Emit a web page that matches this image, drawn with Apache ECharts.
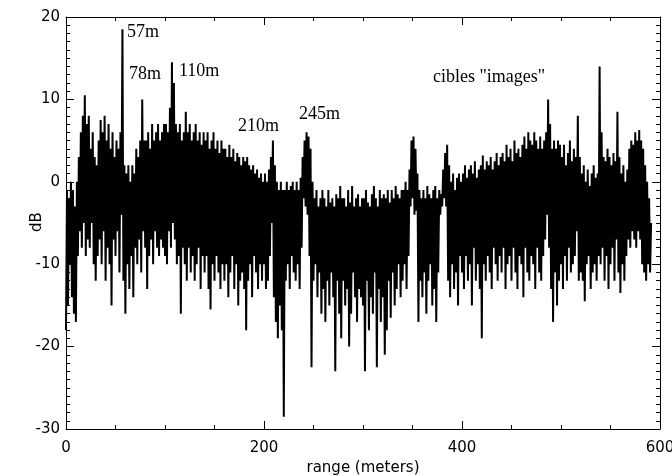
<!DOCTYPE html>
<html lang="fr">
<head>
    <meta charset="UTF-8">
    <title>range (meters) / dB</title>
    <style>
        body {
            margin: 0;
            background-color: #fff;
        }
        #container {
            width: 672px;
            height: 476px;
        }
    </style>
    <script src="https://cdn.jsdelivr.net/npm/echarts@6.0.0/dist/echarts.min.js"></script>
</head>
<body>
    <div id="container"></div>
    <script>
        // echo level sampled every 2 m: lower value at 2i, upper value at 2i+1
        var RANGE_STEP = 2;

        var hiValues = [
            -1, -2, 0, -1, -3, 0, 3, 6, 8, 10.5,
            7, 8, 4, 6, 3, 2, 5, 7.5, 6, 8,
            5, 7, 4, 6, 3, 5, 4, 6, 18.5, 2,
            1, 2, 0, 2, 1, 4, 3, 5, 10, 5,
            5, 6, 4, 7, 5, 6, 7, 5, 6, 7,
            7, 6, 9, 14.5, 12, 7, 6, 7, 5, 6,
            8.5, 6, 7, 5, 6, 7, 5, 6, 4.5, 6,
            5, 6, 4, 5, 6, 4, 5, 3.5, 5, 4,
            4, 3, 4.5, 3, 4, 2.5, 3.5, 3, 2, 3,
            2.5, 3, 2, 1.5, 2, 1, 1.5, 0.5, 1, 0,
            1, 0, 1.5, 3, 5, 2, 0, -1, 0, -1,
            -1, 0, -1, -0.5, 0, -1, 0, -1, 0.5, 3,
            5, 6, 5.5, 4, 0, -2, -1, -3, -2, -1,
            -2, -3, -1, -2.5, -2, -3, -1.5, -2, -0.5, -2,
            -2, -3, -1, -2.5, -0.5, -3, -2, -1.5, -3, -2,
            -2, -1, -2.5, -3, -1.5, -0.5, -2, -3, -1, -2,
            -1.5, -2, -1, -2.5, -1, -2, -0.5, -1.5, -2, -1,
            -1, 0, -1, 1.5, 5, 5.5, 4, 1, -1, -2,
            -1, -2, -0.5, -1.5, -2, -1, -0.5, -2, -1, -1.5,
            1.5, 3.5, 4.5, 2, 0, 1, -1, 0.5, 1, 0,
            1, 2, 0.5, 1.5, 2, 1, 2.5, 0.5, 1.5, 2,
            3.2, 1.5, 2.5, 2, 3, 1.5, 2.5, 3.5, 2, 3,
            3.5, 2.5, 4.5, 3, 4, 2.5, 5, 3.5, 4, 3,
            4.5, 5.5, 4, 6, 5, 4.5, 6, 5, 4, 5.5,
            4, 5, 6, 10, 7, 4, 5, 4, 5, 4.5,
            3, 4.5, 2, 3.5, 5, 2.5, 4, 3, 8, 3,
            1, 2, 0, 1.5, -0.5, 1, 2, 0.5, 1, 14,
            6, 3, 2.5, 4, 3, 2, 3.5, 2.5, 8.5, 3,
            1, 2, 0, 1.5, 4, 5, 4.5, 6, 5, 6.3,
            5, 4, 2, 0, -2, -5
        ];

        var loValues = [
            -18, -15, -10, -14, -16, -17, -9, -6, -8, -5,
            -9, -7, -8, -5, -10, -12, -9, -7, -10, -6,
            -12, -8, -10, -15, -7, -9, -6, -11, -4, -12,
            -16, -10, -13, -9, -14, -8, -10, -7, -11, -6,
            -8, -13, -9, -7, -10, -6, -8, -9, -7, -8,
            -9, -10, -6, -8, -5, -7, -10, -9, -16, -8,
            -10, -12, -8, -11, -9, -12, -10, -8, -13, -9,
            -11, -9, -13, -15.5, -10, -12, -9, -11, -13, -10,
            -12, -10, -14, -11, -9, -13, -10, -15, -12, -11,
            -13, -18, -12, -10, -14, -9, -11, -13, -10, -12,
            -10, -13, -12, -9, -5, -14, -17, -19, -15, -18,
            -28.5, -12, -10, -13, -9, -11, -12, -10, -13, -8,
            -2, -3, -4, -9, -22.5, -12, -10, -14, -11, -16,
            -13, -17, -12, -15, -11, -14, -23, -12, -16, -19,
            -12, -15, -13, -20, -16, -11, -14, -17, -13, -14,
            -15, -23, -12, -18, -14, -16, -11, -22.5, -13, -17,
            -14, -21, -18, -12, -16.5, -11, -15, -13, -10, -14,
            -12, -10, -13, -9, -3, -2, -4, -3.5, -17, -12,
            -14, -11, -16, -12, -10, -15, -13, -17, -11, -4,
            -3, -2, -3, -12, -14, -10, -13, -11, -15, -9,
            -11, -13, -9, -12, -10, -15, -8, -12, -10, -13,
            -19, -10, -12, -9, -11, -13, -8, -10, -12, -9,
            -11, -8, -13, -10, -9, -12, -8, -11, -13, -9,
            -10, -14, -8, -11, -12, -9, -10, -13, -8, -11,
            -12, -9, -7, -4, -8, -13, -17, -11, -15, -12,
            -10, -13, -9, -12, -8, -11, -10, -9, -6, -12,
            -11, -12, -14.5, -10, -9, -13, -11, -10, -12, -9,
            -10, -8, -12, -9, -13, -10, -8, -12, -7, -11,
            -13.5, -10, -12, -9, -7, -8, -6, -7, -8, -6,
            -7, -10, -11, -12, -10, -11
        ];

        var xTicks = { min: 0, max: 600, labelStep: 200, minorSplit: 4 };
        var yTicks = { min: -30, max: 20, labelStep: 10, minorSplit: 10 };

        var annotations = [
            { text: '57m', left: 127, y: 32 },
            { text: '78m', left: 129, y: 74 },
            { text: '110m', left: 179, y: 71 },
            { text: '210m', left: 238, y: 126 },
            { text: '245m', left: 299, y: 114 },
            { text: 'cibles "images"', left: 433, y: 77 }
        ];

        var chart = echarts.init(document.getElementById('container'));

        // zig-zag trace: low then high for every 2 m sample
        var trace = [];
        for (var i = 0; i < hiValues.length; i++) {
            trace.push([i * RANGE_STEP, loValues[i]]);
            trace.push([i * RANGE_STEP + 1, hiValues[i]]);
        }

        var sans = 'DejaVu Sans';

        function frameAxis(pos, range, withLabels) {
            return {
                type: 'value',
                min: range.min,
                max: range.max,
                interval: range.labelStep,
                position: pos,
                axisLine: { show: true, onZero: false, lineStyle: { color: '#000', width: 1 } },
                axisTick: { show: true, inside: true, length: 8, lineStyle: { color: '#000', width: 1 } },
                minorTick: { show: true, splitNumber: range.minorSplit, length: 4, lineStyle: { color: '#000', width: 1 } },
                axisLabel: withLabels
                    ? { show: true, fontFamily: sans, fontSize: 15, color: '#000', margin: pos === 'left' ? 6 : 12 }
                    : { show: false },
                splitLine: { show: false }
            };
        }

        var xBottom = frameAxis('bottom', xTicks, true);
        xBottom.name = 'range (meters)';
        xBottom.nameLocation = 'middle';
        xBottom.nameGap = 29;
        xBottom.nameTextStyle = { fontFamily: sans, fontSize: 15, color: '#000' };

        var option = {
            animation: false,
            backgroundColor: '#fff',
            grid: { left: 66, right: 12, top: 17, bottom: 47, outerBoundsMode: 'none' },
            xAxis: [xBottom, frameAxis('top', xTicks, false)],
            yAxis: [frameAxis('left', yTicks, true), frameAxis('right', yTicks, false)],
            graphic: annotations.map(function (a) {
                return {
                    type: 'text',
                    left: a.left,
                    top: a.y - 9,
                    style: {
                        text: a.text,
                        fill: '#000',
                        font: '18px "Liberation Serif", serif'
                    }
                };
            }).concat([{
                type: 'text',
                x: 37,
                y: 222,
                rotation: Math.PI / 2,
                style: {
                    text: 'dB',
                    fill: '#000',
                    font: '15px "DejaVu Sans"',
                    align: 'center',
                    verticalAlign: 'middle'
                }
            }]),
            series: [
                {
                    type: 'line',
                    xAxisIndex: 0,
                    yAxisIndex: 0,
                    data: trace,
                    showSymbol: false,
                    symbol: 'none',
                    lineStyle: { color: '#000', width: 2 },
                    silent: true
                }
            ]
        };

        chart.setOption(option);
    </script>
</body>
</html>
